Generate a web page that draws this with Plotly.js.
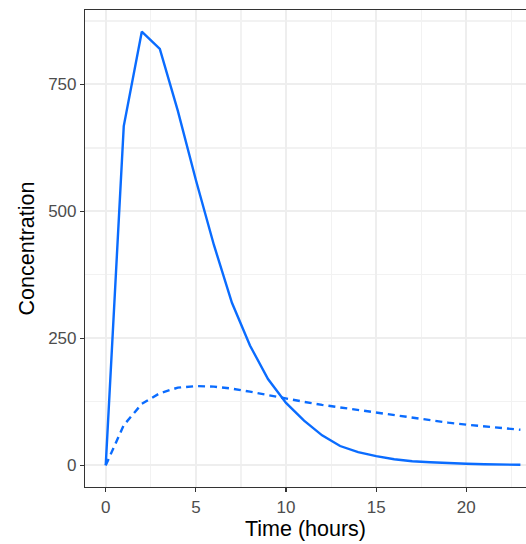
<!DOCTYPE html>
<html>
<head>
<meta charset="utf-8">
<script src="https://cdn.plot.ly/plotly-3.0.1.min.js"></script>
<style>html,body{margin:0;padding:0;background:#fff;}#chart{width:526px;height:544px;}</style>
</head>
<body>
<div id="chart"></div>
<script>
const timeHours = [0,1,2,3,4,5,6,7,8,9,10,11,12,13,14,15,16,17,18,19,20,21,22,23];
const concSolid = [0,668,854,820,698,562,434,320,236,170,123,88,59,38,26,18,12,8,6,4,3,2,1,1];
const concDashed = [0,79,121,142,153,156,155,151,145,138,131,125,119,114,108,103,98,93,89,84,80,77,73,70];
const xTicks = [0,5,10,15,20];
const xMinor = [2.5,7.5,12.5,17.5,22.5];
const yTicks = [0,250,500,750];
const yMinor = [125,375,625,875];

const lineColor = '#0a6cff';
const fontFam = 'Liberation Sans, Arial, sans-serif';

const traces = [
  {x: timeHours, y: concSolid, mode: 'lines', type: 'scatter',
   line: {color: lineColor, width: 2.4}, hoverinfo: 'skip'},
  {x: timeHours, y: concDashed, mode: 'lines', type: 'scatter',
   line: {color: lineColor, width: 2.4, dash: '7px,5px'}, hoverinfo: 'skip'}
];

const layout = {
  width: 526, height: 544,
  margin: {l: 85, r: 0, t: 9.5, b: 57},
  paper_bgcolor: '#ffffff', plot_bgcolor: '#ffffff',
  showlegend: false,
  font: {family: fontFam},
  xaxis: {
    range: [-1.15, 23.31],
    tickvals: xTicks, ticktext: xTicks.map(String),
    showgrid: true, gridcolor: '#eeeeee', gridwidth: 2,
    minor: {tickvals: xMinor, showgrid: true, gridcolor: '#f2f2f2', gridwidth: 1.2, ticks: ''},
    zeroline: false,
    showline: true, linecolor: '#333333', linewidth: 1.1, mirror: true,
    ticks: 'outside', ticklen: 4, tickwidth: 1.1, tickcolor: '#333333',
    tickfont: {size: 17, color: '#4d4d4d', family: fontFam},
    title: {text: 'Time (hours)', font: {size: 21.5, color: '#000000', family: fontFam}, standoff: 3},
    fixedrange: true
  },
  yaxis: {
    range: [-42.7, 896.7],
    tickvals: yTicks, ticktext: yTicks.map(String),
    showgrid: true, gridcolor: '#eeeeee', gridwidth: 2,
    minor: {tickvals: yMinor, showgrid: true, gridcolor: '#f2f2f2', gridwidth: 1.2, ticks: ''},
    zeroline: false,
    showline: true, linecolor: '#333333', linewidth: 1.1, mirror: false,
    ticks: 'outside', ticklen: 4, tickwidth: 1.1, tickcolor: '#333333',
    tickfont: {size: 17, color: '#4d4d4d', family: fontFam},
    title: {text: 'Concentration', font: {size: 21.5, color: '#000000', family: fontFam}, standoff: 7},
    fixedrange: true
  }
};

Plotly.newPlot('chart', traces, layout, {displayModeBar: false, staticPlot: true});
</script>
</body>
</html>
